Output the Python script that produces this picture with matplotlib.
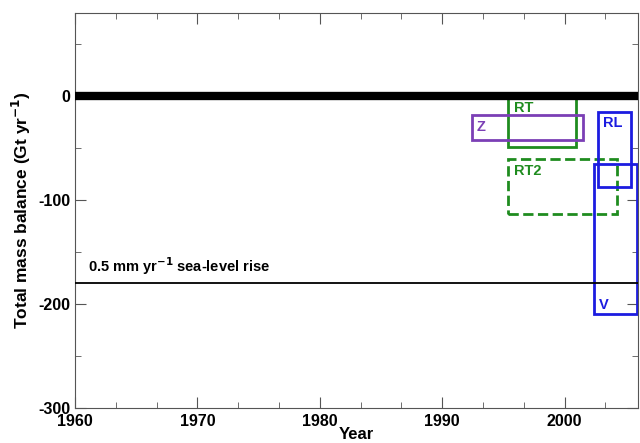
import matplotlib
matplotlib.use("Agg")
import matplotlib.pyplot as plt
from matplotlib.patches import Rectangle
from matplotlib.ticker import MultipleLocator

plt.rcParams['font.family'] = ['Liberation Sans', 'DejaVu Sans']
plt.rcParams['font.weight'] = 'bold'
plt.rcParams['axes.unicode_minus'] = False

# Estimates: name, x0, x1, y_top, y_bottom, colour, linestyle
names = ["RT", "Z", "RT2", "RL", "V"]
x_start = [1995.4, 1992.4, 1995.4, 2002.7, 2002.4]
x_end = [2000.9, 2001.5, 2004.3, 2005.4, 2005.9]
y_top = [0, -18, -61, -15, -65]
y_bot = [-49, -42, -113, -87, -210]
colors = ["#1f8c1f", "#7b3fb5", "#1f8c1f", "#1c1ce0", "#1c1ce0"]
styles = ["-", "-", "--", "-", "-"]

zero_line = 0
sea_level = -180
sea_label = "0.5 mm yr$^{\\mathbf{-1}}$ sea-level rise"

fig = plt.figure(figsize=(6.4, 4.43), dpi=100)
ax = fig.add_axes([0.117, 0.079, 0.88, 0.892])
ax.set_xlim(1960, 2006)
ax.set_ylim(-300, 80)

ax.axhline(zero_line, color="black", lw=6, zorder=3)
ax.axhline(sea_level, color="black", lw=1.3, zorder=3)
ax.text(1961.1, sea_level + 6, sea_label, fontsize=10.5, fontweight="bold", va="bottom")

label_pos = {"RT": ("left", "top", 0.5, -5), "Z": ("left", "center", 0.4, None),
             "RT2": ("left", "top", 0.5, -4), "RL": ("left", "top", 0.4, -4),
             "V": ("left", "bottom", 0.4, 2)}
for n, x0, x1, yt, yb, c, ls in zip(names, x_start, x_end, y_top, y_bot, colors, styles):
    r = Rectangle((x0, yb), x1 - x0, yt - yb, fill=False, edgecolor=c, lw=2,
                  linestyle=ls, zorder=2, clip_on=False)
    ax.add_patch(r)
    ha, va, dx, dy = label_pos[n]
    if n == "Z":
        ty = (yt + yb) / 2
    elif n == "V":
        ty = yb + dy
    else:
        ty = yt + dy
    ax.text(x0 + dx, ty, n, color=c, fontsize=10.5, fontweight="bold", ha=ha, va=va, zorder=4)

ax.xaxis.set_major_locator(MultipleLocator(10))
ax.xaxis.set_minor_locator(MultipleLocator(10 / 3))
ax.yaxis.set_major_locator(MultipleLocator(100))
ax.yaxis.set_minor_locator(MultipleLocator(50))
ax.tick_params(which="both", direction="in", top=True, right=True, colors="#555555",
               labelcolor="black", labelsize=11.5)
ax.tick_params(which="major", length=8)
ax.tick_params(which="minor", length=4)
for lab in ax.get_xticklabels() + ax.get_yticklabels():
    lab.set_fontweight("bold")
ax.tick_params(axis="x", pad=4)
ax.tick_params(axis="y", pad=3)
for s in ax.spines.values():
    s.set_color("#555555")

ax.set_xlabel("Year", fontsize=12, fontweight="bold", labelpad=-1)
ax.set_ylabel("Total mass balance (Gt yr$^{\\mathbf{-1}}$)", fontsize=12.5, fontweight="bold",
              labelpad=4)

fig.savefig("out.png", dpi=100)
